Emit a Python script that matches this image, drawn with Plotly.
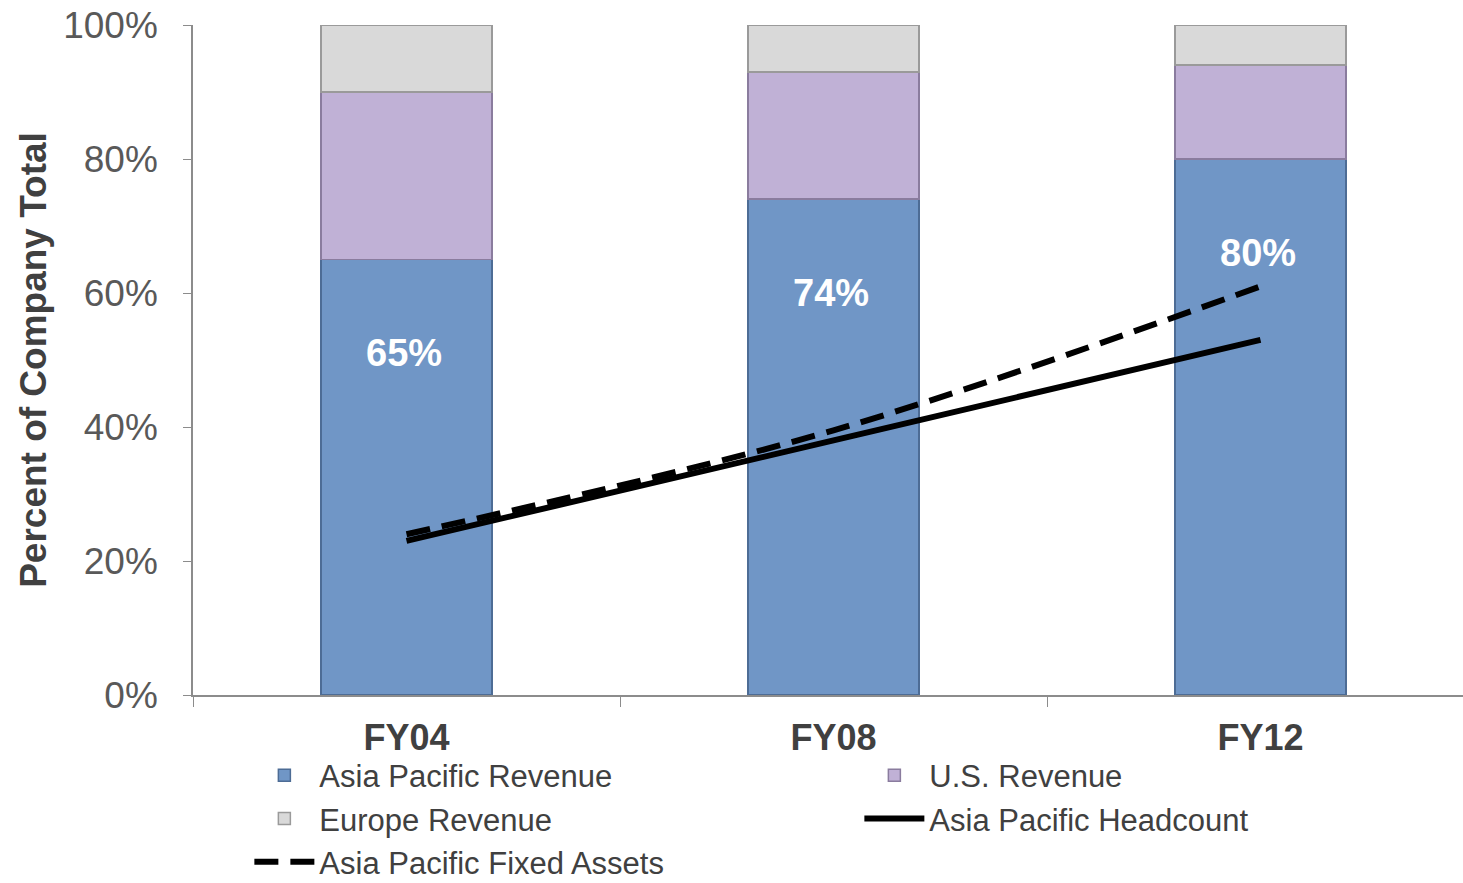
import plotly.graph_objects as go

categories = ["FY04", "FY08", "FY12"]
asia_rev = [65, 74, 80]
us_rev = [25, 19, 14]
europe_rev = [10, 7, 6]
ap_headcount = [23, 38, 53]
ap_fixed_assets = [24, 39.5, 61]
y_ticks = [0, 20, 40, 60, 80, 100]
y_tick_labels = ["0%", "20%", "40%", "60%", "80%", "100%"]

FONT = "Liberation Sans, Arial, sans-serif"

fig = go.Figure()
fig.add_trace(go.Bar(x=categories, y=asia_rev, name="Asia Pacific Revenue",
                     marker=dict(color="#7096c6", line=dict(color="#4d6c95", width=1.5))))
fig.add_trace(go.Bar(x=categories, y=us_rev, name="U.S. Revenue",
                     marker=dict(color="#c0b1d6", line=dict(color="#8a7c9e", width=1.5))))
fig.add_trace(go.Bar(x=categories, y=europe_rev, name="Europe Revenue",
                     marker=dict(color="#d9d9d9", line=dict(color="#9a9a9a", width=1.5))))
fig.add_trace(go.Scatter(x=categories, y=ap_headcount, name="Asia Pacific Headcount",
                         mode="lines", line=dict(color="black", width=6, shape="spline")))
fig.add_trace(go.Scatter(x=categories, y=ap_fixed_assets, name="Asia Pacific Fixed Assets",
                         mode="lines", line=dict(color="black", width=6, dash="24px,12px", shape="spline")))

for c, v in zip(categories, asia_rev):
    fig.add_annotation(x=c, y=v - 14, text=f"<b>{v}%</b>", showarrow=False,
                       font=dict(family=FONT, size=38, color="white"), xshift=-3)

# the plot area runs past the right edge of the window as in the reference
fig.update_layout(
    width=1474, height=883,
    barmode="stack", bargap=0.6,
    plot_bgcolor="white", paper_bgcolor="white",
    margin=dict(l=193, r=0, t=25, b=188, autoexpand=False),
    font=dict(family=FONT, color="#595959"),
    showlegend=True,
    legend=dict(orientation="h", x=0.044, xanchor="left", y=-0.080, yanchor="top",
                font=dict(family=FONT, size=31, color="#404040"),
                entrywidth=535, itemwidth=60, traceorder="normal",
                tracegroupgap=0, bgcolor="rgba(0,0,0,0)"),
)
fig.update_xaxes(showline=True, linecolor="#8c8c8c", linewidth=1.5,
                 ticks="outside", tickson="boundaries", ticklen=10, tickcolor="#8c8c8c",
                 tickfont=dict(family=FONT, size=36, color="#404040", weight="bold"),
                 ticklabelstandoff=10, showgrid=False)
fig.update_yaxes(range=[0, 100], tickmode="array", tickvals=y_ticks, ticktext=y_tick_labels,
                 showline=True, linecolor="#8c8c8c", linewidth=1.5,
                 ticks="outside", ticklen=8, tickcolor="#8c8c8c",
                 tickfont=dict(family=FONT, size=37, color="#595959"),
                 ticklabelstandoff=18, ticklabeloverflow="allow",
                 showgrid=False, zeroline=False,
                 title=dict(text="<b>Percent of Company Total</b>", standoff=5,
                            font=dict(family=FONT, size=37, color="#404040")))

fig.write_html("out.html", config={"displayModeBar": False},
               post_script="document.body.style.margin='0px';document.body.style.overflow='hidden';")
